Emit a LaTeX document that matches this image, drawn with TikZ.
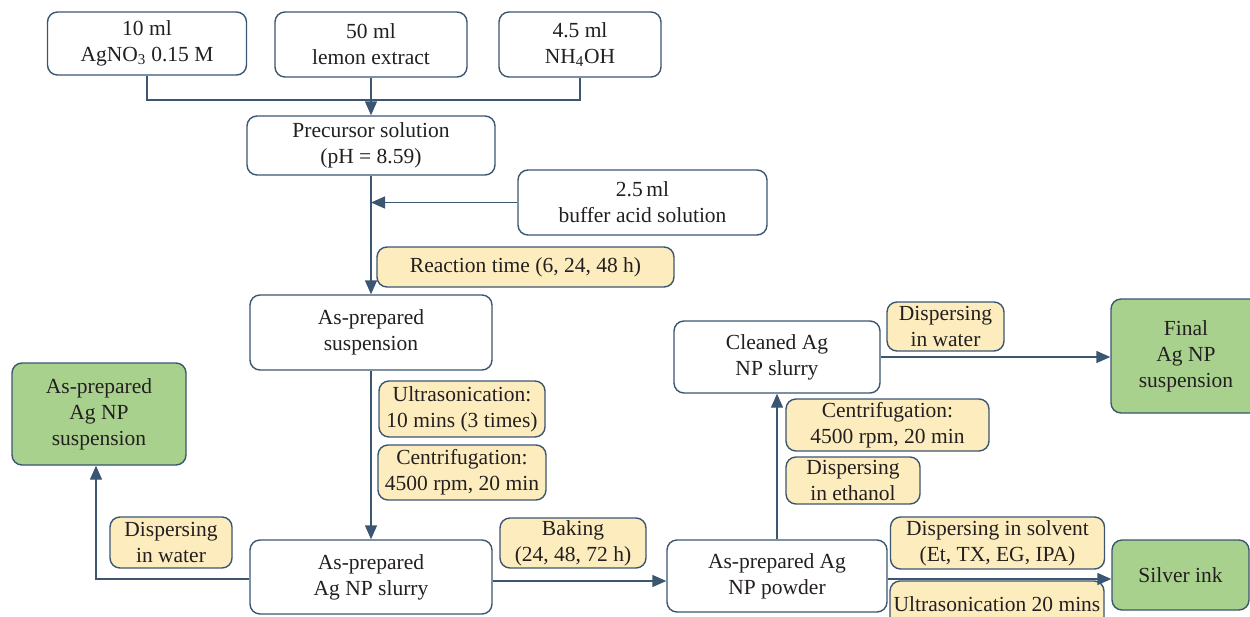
\documentclass[tikz,border=0pt]{standalone}
\usepackage{fontspec}
\setmainfont{Liberation Serif}
\usetikzlibrary{arrows.meta}
\definecolor{lc}{HTML}{3A5670}
\definecolor{yfill}{HTML}{FDEDBE}
\definecolor{gfill}{HTML}{A9D18E}
\definecolor{tc}{HTML}{231F20}
\begin{document}
\begin{tikzpicture}[x=1pt,y=-1pt,
  box/.style={draw=lc, line width=1.4pt, rounded corners=10pt, fill=white, align=center,
    inner sep=0pt, text=tc, font=\fontsize{21.5}{26}\selectfont},
  ybox/.style={box, fill=yfill},
  gbox/.style={box, fill=gfill},
  conn/.style={draw=lc, line width=1.4pt},
  arr/.style={conn, -{Triangle[length=14pt,width=12pt]}}]
\useasboundingbox (0,0) rectangle (1250,616);
\clip (0,0) rectangle (1250,616);
% top row
\node[box, minimum width=199, minimum height=63] (a1) at (147,43.5) {10 ml\\AgNO\textsubscript{3} 0.15 M};
\node[box, minimum width=192, minimum height=65] (a2) at (371,44.5) {50 ml\\lemon extract};
\node[box, minimum width=162, minimum height=65] (a3) at (580,44.5) {4.5 ml\\NH\textsubscript{4}OH};
\node[box, minimum width=248, minimum height=59] (pre) at (371,145.5) {Precursor solution\\(pH = 8.59)};
\node[box, minimum width=249, minimum height=65] (buf) at (642.5,202.5) {2.5\,ml\\buffer acid solution};
\node[ybox, minimum width=297, minimum height=40] (rt) at (525.5,267) {Reaction time (6, 24, 48 h)};
\node[box, minimum width=242, minimum height=75] (sus) at (371,332.5) {As-prepared\\suspension};
\node[ybox, minimum width=166, minimum height=56] (us) at (462,409) {Ultrasonication:\\10 mins (3 times)};
\node[ybox, minimum width=168, minimum height=55] (cf1) at (462,472.5) {Centrifugation:\\4500 rpm, 20 min};
\node[box, minimum width=242, minimum height=74] (slurry) at (371,577) {As-prepared\\Ag NP slurry};
\node[gbox, minimum width=174, minimum height=102] (g1) at (99,414) {As-prepared\\Ag NP\\suspension};
\node[ybox, minimum width=122, minimum height=51] (dw1) at (171,542.5) {Dispersing\\in water};
\node[ybox, minimum width=146, minimum height=50] (bake) at (573,543) {Baking\\(24, 48, 72 h)};
\node[box, minimum width=220, minimum height=72] (pow) at (777,576) {As-prepared Ag\\NP powder};
\node[box, minimum width=206, minimum height=72] (clean) at (777,357) {Cleaned Ag\\NP slurry};
\node[ybox, minimum width=203, minimum height=52] (cf2) at (887.5,425) {Centrifugation:\\4500 rpm, 20 min};
\node[ybox, minimum width=134, minimum height=47] (de) at (853,480.5) {Dispersing\\in ethanol};
\node[ybox, minimum width=117, minimum height=49] (dw2) at (945.5,326.5) {Dispersing\\in water};
\node[gbox, minimum width=150, minimum height=114] (fin) at (1186,356) {Final\\Ag NP\\suspension};
\node[ybox, minimum width=214, minimum height=52] (ds) at (997.5,543) {Dispersing in solvent\\(Et, TX, EG, IPA)};
\node[ybox, minimum width=214, minimum height=46] (us2) at (997,604) {Ultrasonication 20 mins};
\node[gbox, minimum width=137, minimum height=70] (ink) at (1180.5,575) {Silver ink};
% connectors
\coordinate (j) at (371,100);
\draw[conn] (a1.south) |- (j);
\draw[conn] (a3.south) |- (j);
\draw[arr] (a2.south) -- (pre.north);
\draw[arr] (pre.south) -- (sus.north);
\draw[arr] (buf.west) -- (buf.west -| pre.south);
\draw[arr] (sus.south) -- (slurry.north);
\draw[arr] ([yshift=-2pt]slurry.west) -| ([xshift=-3pt]g1.south);
\draw[arr] ([yshift=-4pt]slurry.east) -- ([yshift=-4pt]slurry.east -| pow.west);
\draw[arr] (pow.north) -- (clean.south);
\draw[arr] (clean.east) -- (clean.east -| fin.west);
\draw[arr] ([yshift=-3pt]pow.east) -- ([yshift=-3pt]pow.east -| ink.west);
\end{tikzpicture}
\end{document}
